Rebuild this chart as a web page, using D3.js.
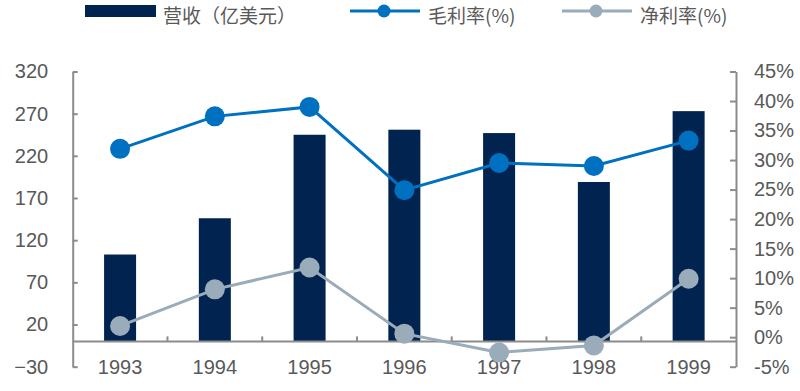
<!DOCTYPE html>
<html>
<head>
<meta charset="utf-8">
<script src="https://cdn.jsdelivr.net/npm/d3@7"></script>
<style>
  html, body { margin: 0; padding: 0; background: #fff; }
  svg { display: block; }
  text { font-family: "Liberation Sans", Arial, "Noto Sans CJK SC", sans-serif; fill: #595959; }
  .legend text { font-family: "Noto Sans CJK SC", sans-serif; }
</style>
</head>
<body>
<div id="chart"></div>
<script>
// data
const years = ['1993', '1994', '1995', '1996', '1997', '1998', '1999'];
const revenue = [103, 146, 245, 251, 247, 189, 273];          // 营收（亿美元）
const grossMargin = [31.9, 37.4, 39.0, 24.9, 29.5, 29.0, 33.3]; // 毛利率(%)
const netMargin = [1.9, 8.1, 11.8, 0.6, -2.6, -1.4, 9.9];      // 净利率(%)

const leftTicks = [-30, 20, 70, 120, 170, 220, 270, 320];
const rightTicks = [-5, 0, 5, 10, 15, 20, 25, 30, 35, 40, 45];
const legendLabels = ['营收（亿美元）', '毛利率(%)', '净利率(%)'];

const W = 800, H = 391;
const dims = { left: 72.7, right: 736, top: 71.5, bottom: 366.7 };
const colors = { bar: '#00244f', gross: '#0070c0', net: '#9aabb9', axis: '#8c8c8c' };

const svg = d3.select('#chart').append('svg')
  .attr('width', W).attr('height', H)
  .attr('viewBox', `0 0 ${W} ${H}`);

const x = d3.scaleBand().domain(years).range([dims.left, dims.right]).padding(0);
const yL = d3.scaleLinear().domain([-30, 320]).range([dims.bottom, dims.top]);
const yR = d3.scaleLinear().domain([-5, 45]).range([dims.bottom, dims.top]);

const barW = 32;

// bars
svg.append('g').selectAll('rect')
  .data(years)
  .join('rect')
    .attr('x', d => x(d) + x.bandwidth() / 2 - barW / 2)
    .attr('y', (d, i) => yL(revenue[i]))
    .attr('width', barW)
    .attr('height', (d, i) => yL(0) - yL(revenue[i]))
    .attr('fill', colors.bar);

// left axis
const gL = svg.append('g')
  .attr('transform', `translate(${dims.left},0)`)
  .call(d3.axisLeft(yL).tickValues(leftTicks).tickSize(-5).tickPadding(24.5).tickSizeOuter(0));
gL.select('.domain').attr('stroke', colors.axis).attr('stroke-width', 2);
gL.selectAll('.tick line').attr('stroke', colors.axis).attr('stroke-width', 2);
gL.selectAll('.tick text').style('font-size', '20px').attr('fill', '#595959');

// right axis
const gR = svg.append('g')
  .attr('transform', `translate(${dims.right},0)`)
  .call(d3.axisRight(yR).tickValues(rightTicks).tickSize(-6).tickPadding(18).tickSizeOuter(0)
    .tickFormat(d => d + '%'));
gR.select('.domain').attr('stroke', colors.axis).attr('stroke-width', 2);
gR.selectAll('.tick line').attr('stroke', colors.axis).attr('stroke-width', 2);
gR.selectAll('.tick text').style('font-size', '20px').attr('fill', '#595959');

// x axis at the zero line
const y0 = yL(0);
const gX = svg.append('g');
gX.append('line')
  .attr('x1', dims.left).attr('x2', dims.right + 1)
  .attr('y1', y0).attr('y2', y0)
  .attr('stroke', colors.axis).attr('stroke-width', 2);
gX.selectAll('.xtick')
  .data(years.slice(1))
  .join('line')
    .attr('class', 'xtick')
    .attr('x1', d => x(d)).attr('x2', d => x(d))
    .attr('y1', y0).attr('y2', y0 - 5)
    .attr('stroke', colors.axis).attr('stroke-width', 2);
gX.selectAll('text')
  .data(years)
  .join('text')
    .attr('x', d => x(d) + x.bandwidth() / 2)
    .attr('y', dims.bottom)
    .attr('dy', '0.35em')
    .attr('text-anchor', 'middle')
    .style('font-size', '20px')
    .text(d => d);

// lines with markers
function drawSeries(values, color) {
  const pts = years.map((d, i) => [x(d) + x.bandwidth() / 2, yR(values[i])]);
  svg.append('path')
    .attr('d', d3.line()(pts))
    .attr('fill', 'none')
    .attr('stroke', color)
    .attr('stroke-width', 3);
  svg.append('g').selectAll('circle')
    .data(pts)
    .join('circle')
      .attr('cx', d => d[0]).attr('cy', d => d[1])
      .attr('r', 10)
      .attr('fill', color);
}
drawSeries(grossMargin, colors.gross);
drawSeries(netMargin, colors.net);

// legend
const legend = svg.append('g').attr('class', 'legend');
const ly = 11;
const textY = 16;
legend.append('rect')
  .attr('x', 85).attr('y', 5).attr('width', 71).attr('height', 12)
  .attr('fill', colors.bar);
legend.append('text').attr('x', 163).attr('y', textY).attr('dy', '0.35em')
  .style('font-size', '19px').text(legendLabels[0]);

[[350, colors.gross, legendLabels[1], 428], [562, colors.net, legendLabels[2], 640]].forEach(([lx, c, label, tx]) => {
  legend.append('line')
    .attr('x1', lx).attr('x2', lx + 70).attr('y1', ly).attr('y2', ly)
    .attr('stroke', c).attr('stroke-width', 3);
  legend.append('circle')
    .attr('cx', lx + 34).attr('cy', ly).attr('r', 6.5).attr('fill', c);
  legend.append('text').attr('x', tx).attr('y', textY).attr('dy', '0.35em')
    .style('font-size', '19px').text(label);
});
</script>
</body>
</html>
